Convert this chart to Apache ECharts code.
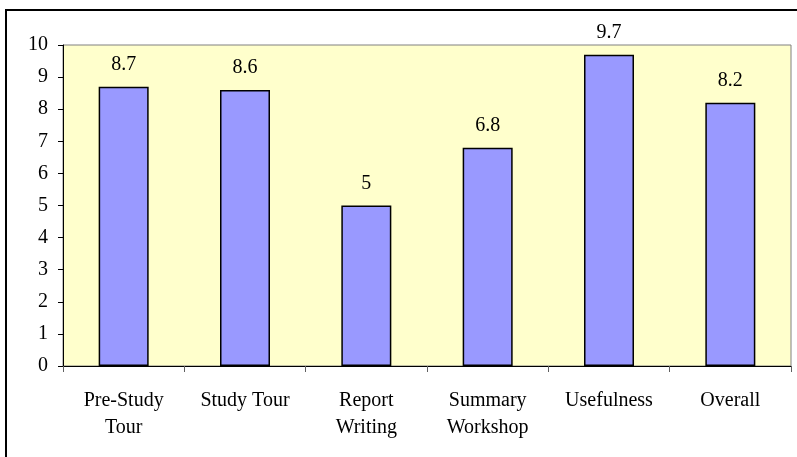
<!DOCTYPE html>
<html>
<head>
<meta charset="utf-8">
<script src="https://cdn.jsdelivr.net/npm/echarts@6/dist/echarts.min.js"></script>
<style>
  html, body { margin: 0; padding: 0; background: #fff; }
  #chart { width: 797px; height: 457px; }
</style>
</head>
<body>
<div id="chart"></div>
<script>
// categories and scores
const categories = ['Pre-Study\nTour', 'Study Tour', 'Report\nWriting', 'Summary\nWorkshop', 'Usefulness', 'Overall']
const scores = [8.7, 8.6, 5, 6.8, 9.7, 8.2]
const yTicks = [0, 1, 2, 3, 4, 5, 6, 7, 8, 9, 10]

const font = '"Liberation Serif", "DejaVu Serif", serif'

const chart = echarts.init(document.getElementById('chart'))
chart.setOption({
  animation: false,
  textStyle: { fontFamily: font },
  graphic: [{
    type: 'rect',
    shape: { x: 6, y: 10, width: 820, height: 480 },
    style: { fill: 'none', stroke: '#000', lineWidth: 2 },
    silent: true,
    z: 100
  }],
  grid: {
    left: 63, top: 45, right: 6, bottom: 91,
    show: true,
    backgroundColor: '#FFFFCC',
    borderColor: '#808080',
    borderWidth: 1
  },
  xAxis: {
    type: 'category',
    data: categories,
    axisLine: { lineStyle: { color: '#000', width: 1 } },
    axisTick: { show: true, length: 6, lineStyle: { color: '#606060' } },
    axisLabel: { color: '#000', fontSize: 20, fontFamily: font, margin: 21, lineHeight: 27 }
  },
  yAxis: {
    type: 'value',
    min: yTicks[0],
    max: yTicks[yTicks.length - 1],
    interval: 1,
    axisLine: { show: true, lineStyle: { color: '#000', width: 1 } },
    axisTick: { show: true, length: 5, lineStyle: { color: '#000' } },
    axisLabel: { color: '#000', fontSize: 20, fontFamily: font, margin: 15 },
    splitLine: { show: false }
  },
  series: [{
    type: 'bar',
    data: scores,
    barWidth: 50,
    itemStyle: { color: '#9999FF', borderColor: '#000', borderWidth: 1.5 },
    label: {
      show: true,
      position: 'top',
      distance: 12,
      color: '#000',
      fontSize: 20,
      fontFamily: font
    }
  }]
})
</script>
</body>
</html>
